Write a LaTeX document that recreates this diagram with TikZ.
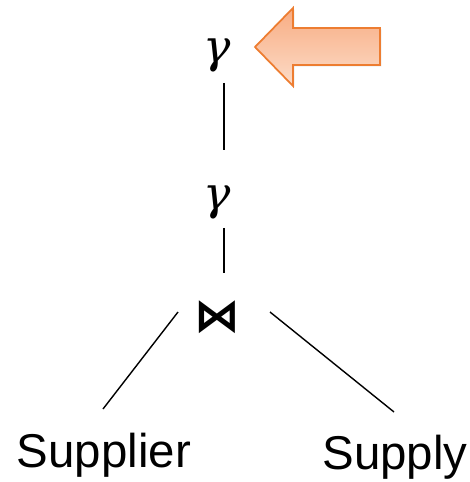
\documentclass[tikz,border=0pt]{standalone}
\usepackage{fontspec}
\newfontfamily\relfont{Liberation Sans}
\newfontfamily\opfont{DejaVu Serif}
\newfontfamily\symfont{DejaVu Sans}
\usepackage{tikz}
\usetikzlibrary{calc}
\usetikzlibrary{shadows}
\definecolor{accentorange}{RGB}{237,125,49}
\definecolor{arrowtop}{RGB}{248,172,130}
\definecolor{arrowbot}{RGB}{252,220,200}
\tikzset{op/.style={inner sep=0pt,font=\opfont\itshape\fontsize{26}{32}\selectfont}}
\tikzset{joinop/.style={inner sep=0pt,font=\symfont\bfseries\fontsize{26}{30}\selectfont}}
\tikzset{rel/.style={inner sep=0pt,font=\relfont\fontsize{27}{32}\selectfont}}
\tikzset{edge/.style={line width=0.8pt,black}}
\tikzset{
pointer/.style={draw=accentorange,line width=1pt,line join=miter,
            top color=arrowtop,bottom color=arrowbot,
            drop shadow={opacity=0.25,shadow xshift=0.8pt,shadow yshift=-0.8pt}}
}

\begin{document}
\begin{tikzpicture}[x=0.02cm,y=-0.02cm]
\useasboundingbox (0,0) rectangle (469,482);

% plan: two aggregations over a join
\node[op] (G1) at (217, 55) {γ};
\node[op] (G2) at (217, 202) {γ};
\node[joinop] (J) at (217, 317) {⋈};
\node[rel] (R1) at (104, 455) {Supplier};
\node[rel] (R2) at (395, 457) {Supply};

\draw[edge] ($ (G1)+(7, 28) $) -- ($ (G1)+(7, 95) $);
\draw[edge] ($ (G2)+(7, 26) $) -- ($ (G2)+(7, 71) $);
\draw[edge] ($ (J)+(-39, -5) $) -- ($ (R1)+(-1, -46) $);
\draw[edge] ($ (J)+(53, -5) $) -- ($ (R2)+(-1, -45) $);

% arrow pointing at the top aggregation
\path[pointer] (255, 47) -- (293, 8) -- (293, 28) -- (380, 28)
  -- (380, 65) -- (293, 65) -- (293, 86) -- cycle;

\end{tikzpicture}
\end{document}
